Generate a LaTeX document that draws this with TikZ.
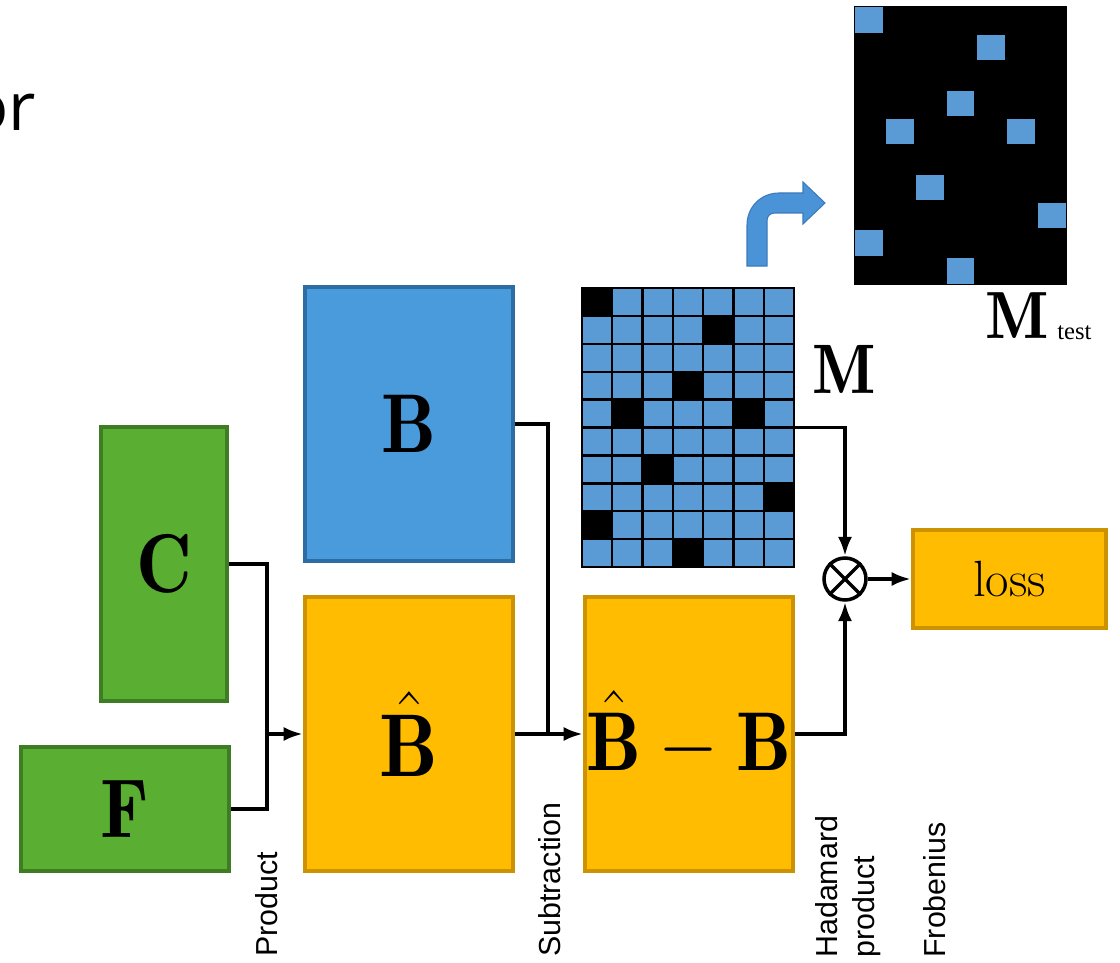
\RequirePackage{fix-cm}
\documentclass[tikz,border=0pt]{standalone}
\usepackage{fontspec}
\usetikzlibrary{arrows.meta}
\newfontfamily\labelfont{Liberation Sans}
\newfontfamily\titlefont{Open Sans}
\newfontfamily\timesfont{Liberation Serif}

\definecolor{grfill}{HTML}{5AAF33}
\definecolor{grline}{HTML}{3E7D24}
\definecolor{blfill}{HTML}{4A9BDB}
\definecolor{blline}{HTML}{2E6DA4}
\definecolor{orfill}{HTML}{FFBC00}
\definecolor{orline}{HTML}{CC9200}
\definecolor{cellblue}{HTML}{5B9BD5}
\definecolor{bendfill}{HTML}{4A93D6}
\definecolor{bendline}{HTML}{3A7BBE}

\tikzset{
  box/.style={draw, line width=2.3pt, inner sep=0pt, align=center},
  greenbox/.style={box, fill=grfill, draw=grline},
  bluebox/.style={box, fill=blfill, draw=blline},
  orangebox/.style={box, fill=orfill, draw=orline},
  conn/.style={line width=2.2pt},
  arr/.style={conn, -{Latex[length=11pt, width=8pt]}},
  oplabel/.style={rotate=90, anchor=base west, inner sep=0pt,
    font=\labelfont\fontsize{17.3}{20}\selectfont},
  big/.style={font=\fontsize{44}{52}\selectfont},
}

\newcommand{\tall}[1]{\scalebox{1}[1.08]{#1}}

\begin{document}
\begin{tikzpicture}[x=0.02cm, y=-0.02cm]
\useasboundingbox (0,0) rectangle (1120,963);

% heading fragment
\node[anchor=base east, inner sep=0pt] (or) at (36,131)
  {\titlefont\fontsize{38}{44}\selectfont or};

% factor matrices and reconstruction
\node[greenbox, big, minimum width=2.52cm, minimum height=5.48cm] (C) at (164,564) {\tall{$\mathbf{C}$}};
\node[greenbox, big, minimum width=4.16cm, minimum height=2.48cm] (F) at (125,809) {\tall{$\mathbf{F}$}};
\node[bluebox, big, minimum width=4.16cm, minimum height=5.48cm] (B) at (409,424) {\tall{$\mathbf{B}$}};
\node[orangebox, font=\fontsize{47}{54}\selectfont, minimum width=4.16cm, minimum height=5.48cm] (Bh) at (409,734) {\tall{$\hat{\mathbf{B}}$}};
\node[orangebox, big, minimum width=4.16cm, minimum height=5.48cm] (BmB) at (689,734) {\tall{$\hat{\mathbf{B}}-\mathbf{B}$}};
\node[orangebox, font=\fontsize{29}{34}\selectfont, minimum width=3.86cm, minimum height=1.96cm] (loss) at (1009.5,579) {loss};

% mask matrix M
\node[inner sep=0pt, minimum width=4.24cm, minimum height=5.58cm] (M) at (688,427.5) {};
\fill[black] (M.north west) rectangle (M.south east);
\foreach \r in {0,...,9}{
  \foreach \c in {0,...,6}{
    \fill[cellblue] ({582+\c*30.2857+1.2},{288+\r*27.9+1.2})
      rectangle ({582+(\c+1)*30.2857-1.2},{288+(\r+1)*27.9-1.2});
  }
}
\foreach \r/\c in {0/0,1/4,3/3,4/1,4/5,6/2,7/6,8/0,9/3}{
  \fill[black] ({582+\c*30.2857},{288+\r*27.9}) rectangle ++(30.2857,27.9);
}
\draw[line width=1.1pt] (M.north west) rectangle (M.south east);
\node[anchor=base, inner sep=0pt] (Mlab) at (844,393)
  {\scalebox{1}[1.05]{\fontsize{38}{44}\selectfont$\mathbf{M}$}};

% test mask
\node[inner sep=0pt, minimum width=4.26cm, minimum height=5.58cm, fill=black] (Mt) at (960.5,145.5) {};
\foreach \r/\c in {0/0,1/4,3/3,4/1,4/5,6/2,7/6,8/0,9/3}{
  \fill[cellblue] ({854+\c*30.43+1.3},{6+\r*27.9+1.3})
    rectangle ({854+(\c+1)*30.43-1.3},{6+(\r+1)*27.9-1.3});
}
\node[anchor=base west, inner sep=0pt] (MtM) at (985,338)
  {\fontsize{38}{44}\selectfont$\mathbf{M}$};
\node[anchor=base west, inner sep=0pt] (Mtsub) at (1057,339)
  {\timesfont\fontsize{14}{16}\selectfont test};

% bent arrow towards the test mask
\filldraw[fill=bendfill, draw=bendline, line width=0.6pt]
  (747,266) -- (747,225) .. controls (747,207) and (761,193) .. (779,193)
  -- (803,193) -- (803,182) -- (825,203) -- (803,224) -- (803,213)
  -- (775,213) .. controls (770,213) and (767,216) .. (767,221)
  -- (767,266) -- cycle;

% Hadamard product operator
\node[draw, circle, line width=2pt, minimum size=0.84cm, inner sep=0pt] (ot) at (845,579) {};
\draw[line width=2pt] (ot.45) -- (ot.225);
\draw[line width=2pt] (ot.135) -- (ot.315);

% connectors
\coordinate (j1) at (267,734);
\coordinate (j2) at (548,734);
\draw[conn] (C.east) -| (j1);
\draw[conn] (F.east) -| (j1);
\draw[arr] (j1) -- (Bh.west);
\draw[conn] (B.east) -| (j2);
\draw[arr] (Bh.east) -- (BmB.west);
\draw[arr] (M.east) -| (ot.north);
\draw[arr] (BmB.east) -| (ot.south);
\draw[arr] (ot.east) -- (loss.west);

% operation labels
\node[oplabel] (lp) at (277,957) {Product};
\node[oplabel] (ls) at (560,957) {Subtraction};
\node[oplabel] (lh) at (837,958) {Hadamard};
\node[oplabel] (lh2) at (874,958) {product};
\node[oplabel] (lf) at (945,958) {Frobenius};
\end{tikzpicture}
\end{document}
